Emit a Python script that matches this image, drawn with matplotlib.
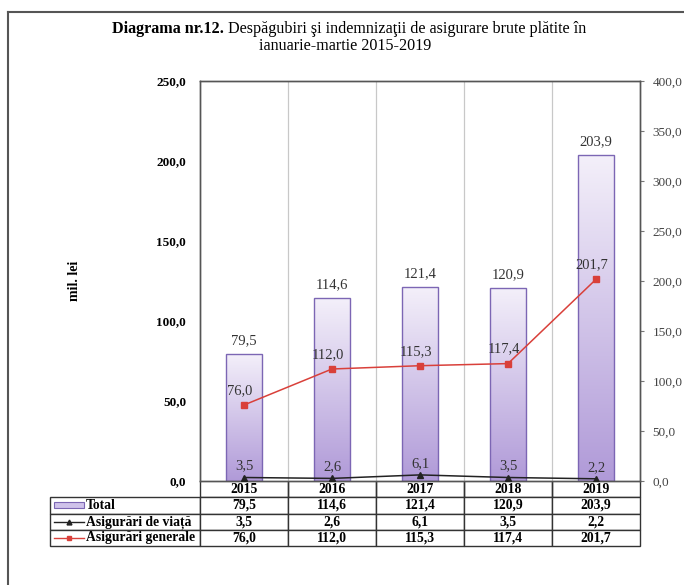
import matplotlib
matplotlib.use("Agg")
import matplotlib.pyplot as plt
import numpy as np
from matplotlib.lines import Line2D
from matplotlib.patches import Rectangle

plt.rcParams['font.family'] = ['Liberation Serif', 'DejaVu Serif']

years = ["2015", "2016", "2017", "2018", "2019"]
total = [79.5, 114.6, 121.4, 120.9, 203.9]
viata = [3.5, 2.6, 6.1, 3.5, 2.2]
generale = [76.0, 112.0, 115.3, 117.4, 201.7]
row_names = ["Total", "Asigurări de viață", "Asigurări generale"]

def fmt(v):
    return f"{v:.1f}".replace(".", ",")

W, H = 684, 585
fig = plt.figure(figsize=(W / 100, H / 100), dpi=100)
ax = fig.add_axes([200 / W, 1 - 481 / H, 440 / W, 400 / H])
ax2 = ax.twinx()

x = np.arange(len(years))

# bars with vertical gradient
bars = ax.bar(x, total, width=0.41, color="none", edgecolor="#7c66b4", linewidth=1.0, zorder=2)
grad = np.linspace(0, 1, 256).reshape(-1, 1)
cmap = matplotlib.colors.LinearSegmentedColormap.from_list("g", ["#b09ad8", "#f4f0fa"])
for b in bars:
    x0, y0 = b.get_x(), b.get_y()
    im = ax.imshow(grad, cmap=cmap, aspect="auto", origin="lower",
                   extent=[x0, x0 + b.get_width(), y0, y0 + b.get_height()], zorder=1)
    im.set_clip_path(b)
for xi, v in zip(x, total):
    ax.text(xi, v + 4, fmt(v), ha="center", va="bottom", fontsize=10.5, color="#333333")

ax.set_xlim(-0.5, 4.5)
ax.set_ylim(0, 250)
ax.set_yticks(np.arange(0, 251, 50))
ax.set_yticklabels([fmt(v) for v in np.arange(0, 251, 50)], fontweight="bold", fontsize=9.5)
ax.tick_params(axis="y", length=0, pad=10)
ax.set_xticks([])
ax.set_xticks(np.arange(0.5, 4.5, 1), minor=True)
ax.tick_params(axis="x", which="minor", length=0)
ax.grid(True, which="minor", axis="x", color="#c8c8c8", linewidth=0.9, zorder=0)
ax.set_ylabel("mil. lei", fontweight="bold", fontsize=10, labelpad=54)
ax.set_aspect("auto")

# lines on secondary axis
ax2.plot(x, viata, color="#222222", marker="^", markersize=4, linewidth=1.1, zorder=4)
ax2.plot(x, generale, color="#d9403a", marker="s", markersize=4, linewidth=1.1, zorder=4)
for xi, v in zip(x, viata):
    ax2.text(xi, v + 5, fmt(v), ha="center", va="bottom", fontsize=10.5, color="#333333")
for xi, v in zip(x, generale):
    ax2.text(xi - 0.05, v + 8, fmt(v), ha="center", va="bottom", fontsize=10.5, color="#333333")
ax2.set_ylim(0, 400)
ax2.set_yticks(np.arange(0, 401, 50))
ax2.set_yticklabels([fmt(v) for v in np.arange(0, 401, 50)], fontsize=9.5, color="#444444")
ax2.tick_params(axis="y", length=3, color="#777777", pad=6)

for a in (ax, ax2):
    for s in a.spines.values():
        s.set_color("#555555")
        s.set_linewidth(1.0)

# data table
cell_text = [[""] + years]
cell_text.append([row_names[0]] + [fmt(v) for v in total])
cell_text.append([row_names[1]] + [fmt(v) for v in viata])
cell_text.append([row_names[2]] + [fmt(v) for v in generale])
tbl = ax.table(cellText=cell_text, colWidths=[150] + [88] * 5, cellLoc="center",
               bbox=[-150 / 440, -65 / 400, 590 / 440, 65 / 400])
tbl.auto_set_font_size(False)
for (r, c), cell in tbl.get_celld().items():
    cell.set_edgecolor("#333333")
    cell.set_linewidth(1.0)
    cell.get_text().set_fontsize(9.8)
    cell.get_text().set_fontweight("bold")
    if c == 0:
        cell.get_text().set_ha("left")
        cell._loc = "left"
        cell.PAD = 36 / 150
    if r == 0 and c == 0:
        cell.visible_edges = ""
    elif r == 0:
        cell.visible_edges = "LRB"

# legend glyphs in the table
row_mid = [-(16 + 8) / 400, -(32 + 8.5) / 400, -(48 + 8.5) / 400]
gx0, gx1 = -146 / 440, -116 / 440
ax.add_patch(Rectangle((gx0, row_mid[0] - 3 / 400), gx1 - gx0, 6 / 400, transform=ax.transAxes,
                       facecolor="#cfc2ea", edgecolor="#7c66b4", linewidth=0.8, clip_on=False))
ax.add_line(Line2D([gx0, gx1], [row_mid[1]] * 2, transform=ax.transAxes, color="#222222",
                   linewidth=1, clip_on=False))
ax.add_line(Line2D([(gx0 + gx1) / 2], [row_mid[1]], transform=ax.transAxes, color="#222222",
                   marker="^", markersize=3.5, clip_on=False))
ax.add_line(Line2D([gx0, gx1], [row_mid[2]] * 2, transform=ax.transAxes, color="#d9403a",
                   linewidth=1, clip_on=False))
ax.add_line(Line2D([(gx0 + gx1) / 2], [row_mid[2]], transform=ax.transAxes, color="#d9403a",
                   marker="s", markersize=3.5, clip_on=False))

# outer frame
fig.add_artist(Line2D([8 / W, 1], [1 - 12 / H] * 2, color="#555555", linewidth=1.5))
fig.add_artist(Line2D([8 / W] * 2, [0, 1 - 12 / H], color="#555555", linewidth=1.5))

# title (bold prefix + regular text)
renderer = fig.canvas.get_renderer()
t1 = fig.text(0, 1 - 29 / H, "Diagrama nr.12.", fontweight="bold", fontsize=11.6, va="center")
t2 = fig.text(0, 1 - 29 / H, " Despăgubiri şi indemnizaţii de asigurare brute plătite în",
              fontsize=11.6, va="center")
w1 = t1.get_window_extent(renderer).width
w2 = t2.get_window_extent(renderer).width
start = 349 - (w1 + w2) / 2
t1.set_x(start / W)
t2.set_x((start + w1) / W)
fig.text(345 / W, 1 - 46 / H, "ianuarie-martie 2015-2019", fontsize=11.6, ha="center", va="center")

fig.savefig("out.png", dpi=100)
